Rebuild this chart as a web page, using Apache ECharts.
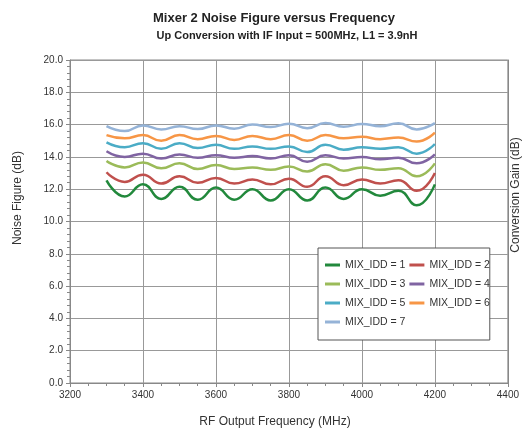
<!DOCTYPE html>
<html>
<head>
<meta charset="utf-8">
<script src="https://cdn.jsdelivr.net/npm/echarts@6/dist/echarts.min.js"></script>
<style>html,body{margin:0;padding:0;background:#fff}#c{width:522px;height:432px}</style>
</head>
<body>
<div id="c"></div>
<script>
var freqs = [3300,3350,3400,3450,3500,3550,3600,3650,3700,3750,3800,3850,3900,3950,4000,4050,4100,4150,4200];
var idd1 = [12.55,11.55,12.3,11.4,12.15,11.35,12.1,11.35,12.0,11.3,12.0,11.3,12.1,11.4,12.0,11.6,11.9,11.0,12.3];
var idd2 = [13.05,12.45,12.9,12.35,12.8,12.4,12.7,12.35,12.6,12.3,12.65,12.15,12.8,12.25,12.6,12.35,12.55,11.9,13.0];
var idd3 = [13.75,13.35,13.65,13.3,13.6,13.25,13.5,13.25,13.35,13.2,13.4,13.1,13.55,13.15,13.35,13.2,13.3,12.8,13.6];
var idd4 = [14.35,14.0,14.2,13.9,14.15,13.95,14.1,13.95,14.05,13.9,14.1,13.7,14.1,13.9,14.0,13.85,13.95,13.6,14.15];
var idd5 = [14.9,14.6,14.85,14.5,14.85,14.55,14.75,14.5,14.65,14.5,14.65,14.3,14.75,14.45,14.6,14.5,14.6,14.2,14.8];
var idd6 = [15.35,15.15,15.35,15.0,15.35,15.1,15.3,15.05,15.3,15.1,15.35,15.0,15.35,15.15,15.25,15.1,15.2,14.95,15.5];
var idd7 = [15.9,15.6,15.95,15.7,15.9,15.72,15.95,15.75,16.0,15.85,16.05,15.78,16.1,15.87,16.04,15.9,16.08,15.7,16.1];
var seriesNames = ['MIX_IDD = 1','MIX_IDD = 2','MIX_IDD = 3','MIX_IDD = 4','MIX_IDD = 5','MIX_IDD = 6','MIX_IDD = 7'];
var seriesColors = ['#22893c','#c0504d','#9bbb59','#8064a2','#4bacc6','#f79646','#95b3d7'];
var allValues = [idd1,idd2,idd3,idd4,idd5,idd6,idd7];

var font = 'Liberation Sans, Arial, sans-serif';
var chart = echarts.init(document.getElementById('c'));
var series = allValues.map(function(vals, i){
  return {
    name: seriesNames[i], type: 'line', smooth: 0.5, symbol: 'none',
    lineStyle: {width: 2.5, color: seriesColors[i]},
    itemStyle: {color: seriesColors[i]},
    data: freqs.map(function(f, j){ return [f, vals[j]]; })
  };
});
chart.setOption({
  animation: false,
  backgroundColor: '#fff',
  title: [
    {text: 'Mixer 2 Noise Figure versus Frequency', left: 269, top: 7, textAlign: 'center',
     textStyle: {fontFamily: font, fontSize: 13, fontWeight: 'bold', color: '#222'}},
    {text: 'Up Conversion with IF Input = 500MHz, L1 = 3.9nH', left: 282, top: 25, textAlign: 'center',
     textStyle: {fontFamily: font, fontSize: 11, fontWeight: 'bold', color: '#222'}}
  ],
  grid: {left: 70, right: 14, top: 60, bottom: 49, show: true, borderColor: '#888', borderWidth: 1},
  legend: {
    data: seriesNames, left: 318, top: 248, width: 175, orient: 'horizontal',
    padding: [9.5, 0, 10.5, 7], itemGap: 4, itemWidth: 15, itemHeight: 3, icon: 'rect',
    backgroundColor: '#fff', borderColor: '#555', borderWidth: 1,
    textStyle: {fontFamily: font, fontSize: 10.5, color: '#333', lineHeight: 15}
  },
  xAxis: {
    type: 'value', min: 3200, max: 4400, interval: 200,
    axisLine: {lineStyle: {color: '#888'}},
    axisTick: {show: true, inside: false, length: 4, lineStyle: {color: '#888'}},
    minorTick: {show: true, splitNumber: 4, length: 3, lineStyle: {color: '#888'}},
    axisLabel: {fontFamily: font, fontSize: 10, color: '#333', margin: 7,
      formatter: function(v){ return String(v); }},
    splitLine: {show: true, lineStyle: {color: '#999', width: 1}}
  },
  yAxis: [{
    type: 'value', min: 0, max: 20, interval: 2,
    axisLine: {show: true, lineStyle: {color: '#888'}},
    axisTick: {show: true, inside: false, length: 4, lineStyle: {color: '#888'}},
    minorTick: {show: true, splitNumber: 5, length: 3, lineStyle: {color: '#888'}},
    axisLabel: {fontFamily: font, fontSize: 10, color: '#333', margin: 7,
      formatter: function(v){ return v.toFixed(1); }},
    splitLine: {show: true, lineStyle: {color: '#999', width: 1}}
  }, {
    type: 'value', min: 0, max: 20, interval: 2, position: 'right',
    axisLine: {show: true, lineStyle: {color: '#888'}},
    axisTick: {show: false}, axisLabel: {show: false}, splitLine: {show: false}
  }],
  graphic: [
    {type: 'text', x: 18, y: 198, rotation: Math.PI/2,
     style: {text: 'Noise Figure (dB)', fontFamily: font, fontSize: 12, fill: '#333', textAlign: 'center', textVerticalAlign: 'middle'}},
    {type: 'text', x: 275, y: 422,
     style: {text: 'RF Output Frequency (MHz)', fontFamily: font, fontSize: 12, fill: '#333', textAlign: 'center', textVerticalAlign: 'middle'}},
    {type: 'text', x: 516, y: 195, rotation: Math.PI/2,
     style: {text: 'Conversion Gain (dB)', fontFamily: font, fontSize: 12, fill: '#333', textAlign: 'center', textVerticalAlign: 'middle'}}
  ],
  series: series
});
</script>
</body>
</html>
